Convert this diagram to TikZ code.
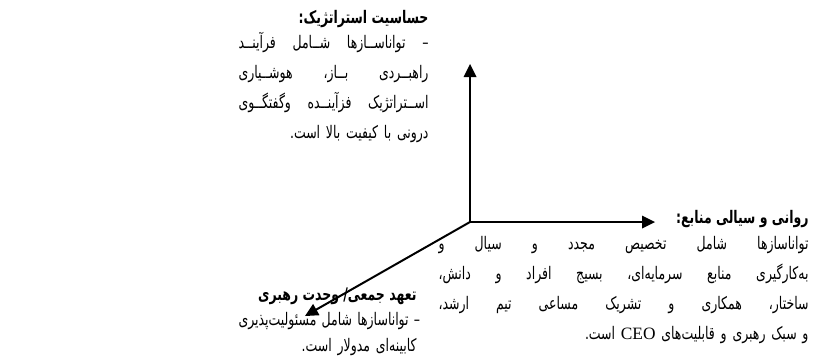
\documentclass[tikz,border=0pt]{standalone}
\usepackage{fontspec}
\newfontfamily\arabicfont[Script=Arabic, FakeStretch=0.72]{DejaVu Sans}
\newfontfamily\latinfont{Liberation Serif}
\TeXXeTstate=1
% one justified line and one last line, right to left
\newcommand\jline[1]{\noindent\hbox to \hsize{\spaceskip=0.3em plus 1fil\beginR #1\endR}\par}
\newcommand\lastline[1]{\noindent\hbox to \hsize{\hfill\beginR #1\endR}\par}

\tikzset{every picture/.style={line width=0.75pt}}
\tikzset{
  headtxt/.style={anchor=north east, inner sep=0.75pt, font=\arabicfont\bfseries\fontsize{13}{20}\selectfont},
  bodytxt/.style={anchor=north east, inner sep=0.75pt, font=\arabicfont\fontsize{13}{#1}\selectfont},
  axis/.style={line width=1.5, shorten >=4pt},
  ahead/.style={fill=black, line width=0.08, draw opacity=0}
}

\begin{document}
\begin{tikzpicture}[x=0.75pt,y=0.75pt,yscale=-1,xscale=1]
        \useasboundingbox (0,0) rectangle (824,362);
        \coordinate (orig) at (470,222);
        \coordinate (tipUp) at (470,64);
        \coordinate (tipRight) at (655,222);
        \coordinate (tipLeft) at (305,316);
        %Straight Lines [up]
        \draw [axis] (orig) -- (tipUp) ;
        \draw [shift={(tipUp)}, rotate = 90] [ahead] (13,-6.5) -- (0,0) -- (13,6.5) -- cycle ;
        %Straight Lines [right]
        \draw [axis] (orig) -- (tipRight) ;
        \draw [shift={(tipRight)}, rotate = 180] [ahead] (13,-6.5) -- (0,0) -- (13,6.5) -- cycle ;
        %Straight Lines [down left]
        \draw [axis] (orig) -- (tipLeft) ;
        \draw [shift={(tipLeft)}, rotate = -29.7] [ahead] (13,-6.5) -- (0,0) -- (13,6.5) -- cycle ;

        % Text Node
        \draw (430,9) node [headtxt] (stratHead) {\beginR حساسیت استراتژیک:\endR};
        % Text Node
        \draw (430,31) node [bodytxt=22.5pt, text width=142.5pt] (stratBody) {%
          \jline{– تواناســازها شــامل فرآینــد}%
          \jline{راهبــردی بــاز، هوشــیاری}%
          \jline{اســتراتژیک فزآینــده وگفتگــوی}%
          \lastline{درونی با کیفیت بالا است.}};
        % Text Node
        \draw (810,209) node [headtxt] (flowHead) {\beginR روانی و سیالی منابع:\endR};
        % Text Node
        \draw (810,235) node [bodytxt=22.5pt, text width=277.5pt] (flowBody) {%
          \jline{تواناسازها شامل تخصیص مجدد و سیال و}%
          \jline{به‌کارگیری منابع سرمایه‌ای، بسیج افراد و دانش،}%
          \jline{ساختار، همکاری و تشریک مساعی تیم ارشد،}%
          \lastline{و سبک رهبری و قابلیت‌های \beginL{\latinfont CEO}\endL{} است.}};
        % Text Node
        \draw (418,286) node [headtxt] (unityHead) {\beginR تعهد جمعی/ وحدت رهبری\endR};
        % Text Node
        \draw (418,311) node [bodytxt=19.5pt, text width=133.5pt] (unityBody) {%
          \jline{– تواناسازها شامل مسئولیت‌پذیری}%
          \lastline{کابینه‌ای مدولار است.}};
\end{tikzpicture}
\end{document}
